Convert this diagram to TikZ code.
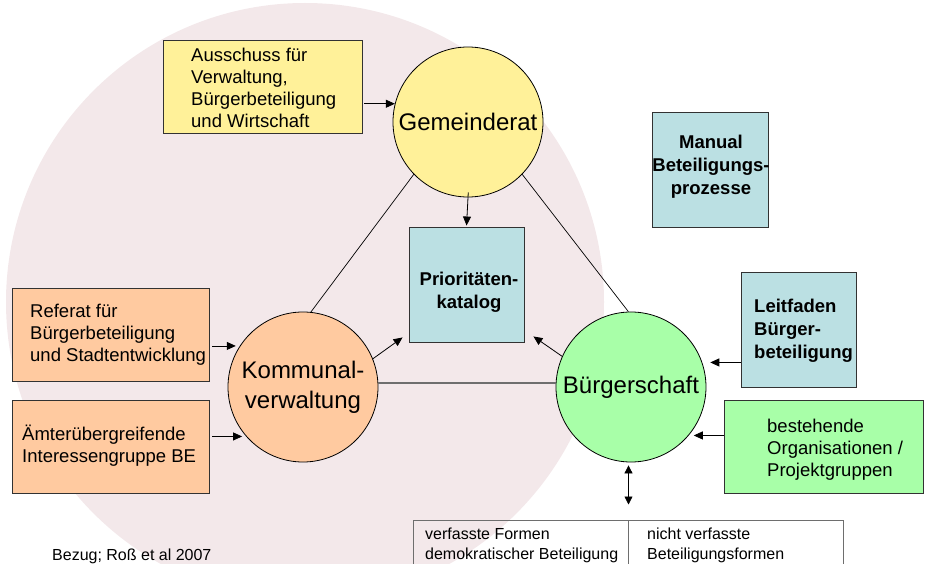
\documentclass[tikz,border=0pt]{standalone}
\usepackage{fontspec}
\setmainfont{Liberation Sans}
\usetikzlibrary{arrows.meta}
\definecolor{bgpink}{RGB}{243,232,234}
\definecolor{fillyellow}{RGB}{255,241,153}
\definecolor{fillorange}{RGB}{255,202,160}
\definecolor{fillblue}{RGB}{187,224,227}
\definecolor{fillgreen}{RGB}{168,255,168}
\definecolor{boxline}{RGB}{50,50,50}
\definecolor{tableline}{RGB}{110,110,110}
\begin{document}
\begin{tikzpicture}[x=1pt,y=-1pt,
  box/.style={rectangle, draw=boxline, line width=0.9pt, inner sep=0pt},
  circ/.style={circle, draw=black, line width=0.8pt, minimum size=150pt, inner sep=0pt,
    align=center, font=\fontsize{24}{30}\selectfont},
  txt/.style={inner sep=0pt, align=left, font=\fontsize{18.5}{22}\selectfont},
  btxt/.style={inner sep=0pt, font=\bfseries\fontsize{18.5}{23}\selectfont},
  smalltxt/.style={inner sep=0pt, align=left, font=\fontsize{16}{20}\selectfont},
  arr/.style={-{Triangle[length=9pt,width=8pt]}, line width=0.8pt},
  dblarr/.style={{Triangle[length=8pt,width=8pt]}-{Triangle[length=8pt,width=8pt]}, line width=0.8pt},
  link/.style={line width=0.7pt},
  baseline link/.style={line width=1.2pt, draw=tableline},
  cell/.style={rectangle, draw=tableline, line width=1pt, inner sep=0pt, minimum height=80pt}
]
\useasboundingbox (0,0) rectangle (930,564);
\clip (0,0) rectangle (930,564);

% background disc
\fill[bgpink] (305,302) circle[radius=299pt];

% boxes
\node[box, fill=fillyellow, minimum width=199pt, minimum height=93pt] (aus) at (262.5,86.5) {};
\node[txt, anchor=west] (austxt) at (191,88) {Ausschuss für\\Verwaltung,\\Bürgerbeteiligung\\und Wirtschaft};

\node[box, fill=fillblue, minimum width=116pt, minimum height=115pt] (man) at (710,169.5) {};
\node[btxt, align=center] (mantxt) at (711,167) {Manual\\Beteiligungs-\\prozesse};

\node[box, fill=fillblue, minimum width=115pt, minimum height=115pt] (prior) at (466.5,284.5) {};
\node[btxt, align=center] (priortxt) at (469,292) {Prioritäten-\\katalog};

\node[box, fill=fillorange, minimum width=197pt, minimum height=93pt] (ref) at (110.5,334.5) {};
\node[txt, anchor=west] (reftxt) at (30,335) {Referat für\\Bürgerbeteiligung\\und Stadtentwicklung};

\node[box, fill=fillorange, minimum width=197pt, minimum height=93pt] (amt) at (110.5,446.5) {};
\node[txt, anchor=west] (amttxt) at (22,446) {Ämterübergreifende\\Interessengruppe BE};

\node[box, fill=fillblue, minimum width=115pt, minimum height=115pt] (leit) at (798.5,329.5) {};
\node[btxt, align=left, anchor=west] (leittxt) at (754,331) {Leitfaden\\Bürger-\\beteiligung};

\node[box, fill=fillgreen, minimum width=199pt, minimum height=93pt] (best) at (823.5,446.5) {};
\node[txt, anchor=west] (besttxt) at (767,450) {bestehende\\Organisationen /\\Projektgruppen};

% circles
\node[circ, fill=fillyellow] (gem) at (468,122) {Gemeinderat};
\node[circ, fill=fillorange] (kom) at (303,387) {Kommunal-\\verwaltung};
\node[circ, fill=fillgreen] (bur) at (631,387) {Bürgerschaft};

% table of participation forms
\node[cell, minimum width=215pt] (tabl) at (520.5,560) {};
\node[cell, minimum width=215pt] (tabr) at (735.5,560) {};
\node[smalltxt, anchor=west] (tabltxt) at (425,545) {verfasste Formen\\demokratischer Beteiligung};
\node[smalltxt, anchor=west] (tabrtxt) at (647,545) {nicht verfasste\\Beteiligungsformen};

% source
\node[smalltxt, anchor=base west] (src) at (52,560) {Bezug; Roß et al 2007};

% triangle links
\draw[link] (gem.224.5) -- (kom.84.7);
\draw[link] (gem.316) -- (bur.92);
\draw[baseline link] (kom.3) -- (bur.177);

% arrows into the circles
\draw[arr, shorten <=2pt] (aus.east |- gem.166) -- (gem.166);
\draw[arr, shorten <=3pt, shorten >=4pt] (ref.east |- kom.147) -- (kom.147);
\draw[arr, shorten <=3pt, shorten >=4pt] (amt.east |- kom.221) -- (kom.221);
\draw[arr, shorten >=8pt] (leit.west |- bur.19) -- (bur.19);
\draw[arr, shorten >=5pt] (best.west |- bur.-40.5) -- (bur.-40.5);

% arrows to the priority catalogue
\draw[arr, shorten <=-5pt, shorten >=1pt] (gem.south) -- (prior.north);
\draw[arr] (kom.22.5) -- ([shift={(-6pt,5pt)}]prior.south west);
\draw[arr] (bur.156) -- ([shift={(9pt,6pt)}]prior.south east);

% link between citizens and forms of participation
\coordinate (tabtop) at ([yshift=15pt]tabl.north east);
\draw[dblarr, shorten <=3pt] (bur.south -| tabtop) -- (tabtop);
\end{tikzpicture}
\end{document}
